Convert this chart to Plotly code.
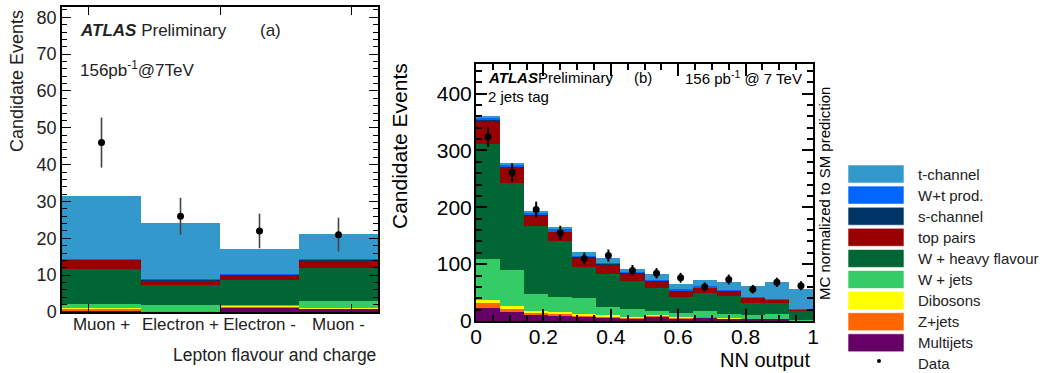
import plotly.graph_objects as go

W, H = 1050, 373
FONT = "Liberation Sans, Arial, Helvetica, sans-serif"

# ---------------- data: panel (a) ----------------
lep_cats = ["Muon +", "Electron +", "Electron -", "Muon -"]
lep_pos = [0.5, 1.5, 2.5, 3.5]
lep_ticks = [0.33, 2.0, 3.67]
a_multijets = [0.4, 0.2, 1.1, 0.9]
a_zjets = [0.5, 0.1, 0.4, 0.1]
a_dibosons = [0.3, 0.1, 0.15, 0.1]
a_wjets = [1.1, 1.4, 0.15, 2.0]
a_whf = [9.45, 5.4, 7.0, 8.9]
a_ttbar = [2.45, 1.3, 1.3, 2.0]
a_schan = [0.15, 0.2, 0.1, 0.15]
a_wt = [0.15, 0.3, 0.2, 0.2]
a_tchan = [17.1, 15.1, 6.6, 6.75]
a_data = [46, 26, 22, 21]
a_err = [6.8, 5.0, 4.7, 4.6]

# ---------------- data: panel (b) ----------------
nn_centers = [(i + 0.5) / 14 for i in range(14)]
b_multijets = [23.4, 15.2, 12.3, 10.5, 8.2, 7.0, 4.1, 8.2, 4.7, 6.5, 4.2, 3.6, 3.6, 0.8]
b_zjets = [7.6, 5.3, 3.5, 3.0, 1.8, 1.2, 1.2, 0.8, 1.5, 0.6, 0.3, 0.3, 0.3, 0.5]
b_dibosons = [5.9, 5.9, 2.4, 1.7, 1.7, 1.8, 2.3, 1.0, 1.4, 0.5, 0.2, 0.2, 0.2, 0.3]
b_wjets = [72, 63.2, 29.2, 27.6, 28.1, 15.2, 14.1, 8.2, 7.0, 10.0, 7.6, 6.4, 8.2, 0.5]
b_whf = [203, 153.4, 120.1, 97.2, 55.7, 57.4, 49.2, 39.8, 28.2, 32.2, 32.2, 20.5, 18.7, 15.5]
b_ttbar = [39.4, 27, 18.5, 17, 16.5, 17.4, 12.8, 11.7, 10.5, 8.8, 8.8, 10, 7, 2.9]
b_schan = [1.5, 1.0, 1.0, 1.0, 1.0, 0.8, 0.8, 0.8, 0.7, 0.7, 0.5, 0.5, 0.4, 0.2]
b_wt = [5.0, 4.5, 3.0, 3.0, 2.0, 2.0, 2.0, 2.0, 1.5, 1.5, 1.2, 1.0, 0.6, 0.3]
b_tchan = [2.0, 1.5, 4.0, 3.6, 6.0, 7.2, 5.5, 10.1, 9.5, 11.2, 13, 19, 29, 35]
b_data = [324, 261, 196, 155, 110, 115, 89, 84, 76, 60, 73, 56, 68, 62]
b_err = [18, 16, 14, 12.5, 10.5, 10.7, 9.4, 9.1, 8.7, 7.8, 8.6, 7.5, 8.2, 7.9]

# ---------------- legend / styles ----------------
names = ["Multijets", "Z+jets", "Dibosons", "W + jets", "W + heavy flavour",
         "top pairs", "s-channel", "W+t prod.", "t-channel"]
colors = ["#660066", "#ff6600", "#ffff00", "#33cc66", "#006633",
          "#990000", "#003366", "#0066ff", "#3399cc"]
a_stack = [a_multijets, a_zjets, a_dibosons, a_wjets, a_whf, a_ttbar, a_schan, a_wt, a_tchan]
b_stack = [b_multijets, b_zjets, b_dibosons, b_wjets, b_whf, b_ttbar, b_schan, b_wt, b_tchan]


def px(x):
    return x / W


def py(y):
    return 1 - y / H


fig = go.Figure()
for n, c, ya in zip(names, colors, a_stack):
    fig.add_trace(go.Bar(x=lep_pos, y=ya, width=1.0, name=n, marker=dict(color=c, line=dict(width=0)),
                         xaxis="x", yaxis="y", showlegend=False))
for n, c, yb in zip(names, colors, b_stack):
    fig.add_trace(go.Bar(x=nn_centers, y=yb, width=1 / 14, name=n, marker=dict(color=c, line=dict(width=0)),
                         xaxis="x2", yaxis="y2", showlegend=False))

fig.add_trace(go.Scatter(x=lep_pos, y=a_data, mode="markers", xaxis="x", yaxis="y", showlegend=False,
                         marker=dict(color="black", size=7),
                         error_y=dict(type="data", array=a_err, width=0, thickness=1.6, color="#444444")))
fig.add_trace(go.Scatter(x=nn_centers, y=b_data, mode="markers", xaxis="x2", yaxis="y2", showlegend=False,
                         marker=dict(color="black", size=7),
                         error_y=dict(type="data", array=b_err, width=0, thickness=2, color="black")))
# invisible trace so the category-label axis renders
fig.add_trace(go.Scatter(x=lep_pos, y=a_data, mode="markers", xaxis="x4", yaxis="y",
                         marker=dict(opacity=0), showlegend=False, hoverinfo="skip"))

tickfont_a = dict(family=FONT, size=17, color="#222222")
tickfont_ay = dict(family=FONT, size=18, color="#222222")
tickfont_b = dict(family=FONT, size=21, color="black")

fig.update_layout(
    width=W, height=H, margin=dict(l=0, r=0, t=0, b=0, autoexpand=False),
    paper_bgcolor="white", plot_bgcolor="white",
    barmode="stack", bargap=0,
    xaxis=dict(domain=[px(62), px(378)], range=[0, 4], tickmode="array", tickvals=lep_ticks,
               ticktext=["", "", ""], ticks="inside", ticklen=8, tickwidth=1.2, tickcolor="black",
               showline=True, linecolor="black", linewidth=1.5, mirror="ticks", showgrid=False,
               zeroline=False, anchor="y"),
    xaxis4=dict(domain=[px(62), px(378)], range=[0, 4], overlaying="x", anchor="y", side="bottom",
                tickmode="array", tickvals=lep_pos, ticktext=lep_cats, ticks="", showline=False,
                showgrid=False, zeroline=False, tickfont=tickfont_a, tickangle=0),
    yaxis=dict(domain=[py(312), py(7)], range=[0, 82.8], dtick=10, ticks="inside", ticklen=9,
               tickwidth=1.2, tickcolor="black", showline=True, linecolor="black", linewidth=1.5,
               mirror="ticks", showgrid=False, zeroline=False, tickfont=tickfont_ay, anchor="x",
               minor=dict(dtick=2, ticks="inside", ticklen=5, tickcolor="black", tickwidth=1)),
    xaxis2=dict(domain=[px(476), px(813)], range=[0, 1], dtick=0.2, ticks="inside", ticklen=12,
                tickwidth=2, tickcolor="black", showline=True, linecolor="black", linewidth=2,
                mirror="ticks", showgrid=False, zeroline=False, tickfont=tickfont_b, anchor="y2",
                tickangle=0, ticklabelstandoff=-4,
                minor=dict(dtick=0.05, ticks="inside", ticklen=6, tickcolor="black", tickwidth=2)),
    yaxis2=dict(domain=[py(321), py(64)], range=[0, 452], dtick=100, ticks="inside", ticklen=11,
                tickwidth=2, tickcolor="black", showline=True, linecolor="black", linewidth=2,
                mirror="ticks", showgrid=False, zeroline=False, tickfont=tickfont_b, anchor="x2",
                ticklabelstandoff=-2,
                minor=dict(dtick=20, ticks="inside", ticklen=6, tickcolor="black", tickwidth=2)),
)

ann = []


def text(x, y, t, size, xanchor="left", color="#222222", angle=0):
    ann.append(dict(x=px(x), y=py(y), xref="paper", yref="paper", text=t, showarrow=False,
                    xanchor=xanchor, yanchor="middle", textangle=angle,
                    font=dict(family=FONT, size=size, color=color)))


# panel (a) texts
text(78, 30, "<b><i>ATLAS</i></b> Preliminary", 17)
text(258, 30, "(a)", 17)
text(78, 69, "156pb<sup>-1</sup>@7TeV", 17)
text(17, 81, "Candidate Events", 18, xanchor="center", angle=-90)
text(378, 355, "Lepton flavour and charge", 17.5, xanchor="right")

# panel (b) texts
text(486, 77, "<b><i>ATLAS</i></b>Preliminary", 15, color="black")
text(632, 77, "(b)", 15, color="black")
text(683, 77, "156 pb<sup>-1</sup> @ 7 TeV", 15, color="black")
text(486, 97, "2 jets tag", 15, color="black")
text(399, 146, "Candidate Events", 21, xanchor="center", color="black", angle=-90)
text(812, 360, "NN output", 20, xanchor="right", color="black")
text(824, 194, "MC normalized to SM prediction", 15, xanchor="center", color="black", angle=-90)

# custom legend (ROOT style wide boxes)
shapes = []
leg_names = names[::-1]
leg_colors = colors[::-1]
for i, (n, c) in enumerate(zip(leg_names, leg_colors)):
    top = 165 + i * 21.1
    shapes.append(dict(type="rect", xref="paper", yref="paper", x0=px(848), x1=px(904),
                       y0=py(top + 18), y1=py(top), fillcolor=c,
                       line=dict(color="rgba(255,255,255,0.6)", width=1)))
    text(916, top + 9, n, 15)
text(916, 363, "Data", 15)
shapes.append(dict(type="circle", xref="paper", yref="paper", x0=px(877), x1=px(881),
                   y0=py(363), y1=py(359), fillcolor="black", line=dict(width=0)))
fig.update_layout(annotations=ann, shapes=shapes)

fig.write_html("out.html", config={"displayModeBar": False},
               post_script="document.body.style.margin='0';document.body.style.padding='0';")
